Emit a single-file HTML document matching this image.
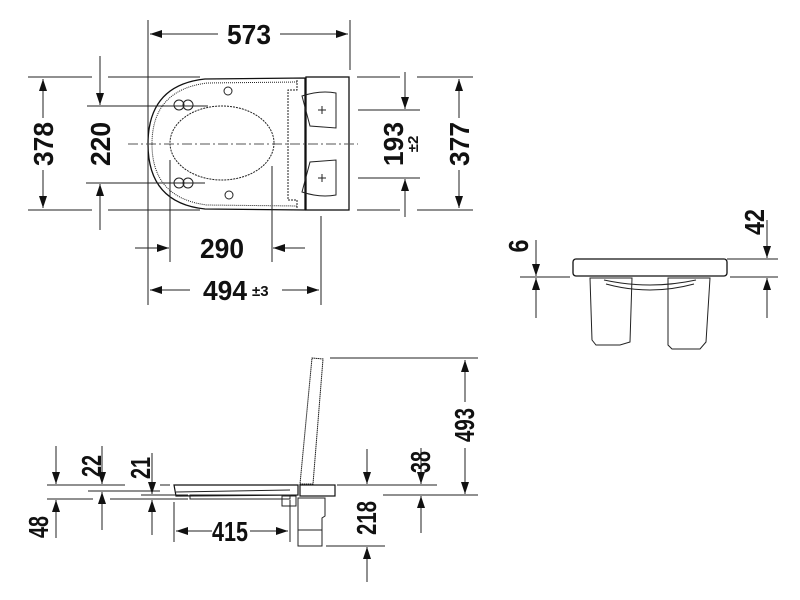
<!DOCTYPE html>
<html><head><style>body{margin:0;background:#fff}svg{display:block}
text{font-family:"Liberation Sans",sans-serif;font-weight:bold;fill:#111}</style></head><body>
<svg width="800" height="600" viewBox="0 0 800 600" xmlns="http://www.w3.org/2000/svg">
<defs>
<marker id="a" markerWidth="12" markerHeight="8" refX="12" refY="4" orient="auto" markerUnits="userSpaceOnUse"><path d="M0,0 L12,4 L0,8Z" fill="#111"/></marker>
</defs>
<g stroke="#222" stroke-width="1" fill="none">
<line x1="148" y1="20" x2="148" y2="305"/><line x1="350" y1="20" x2="350" y2="70"/>
<line x1="218" y1="34" x2="150" y2="34" marker-end="url(#a)"/><line x1="280" y1="34" x2="348" y2="34" marker-end="url(#a)"/>
<path d="M305,78 L205,79 Q148,85 148,144 Q148,203 205,209 L305,210 Z" stroke="#111" stroke-width="1.3"/>
<path d="M297,82 L207,83 Q152,90 152,144 Q152,198 207,205 L297,206" stroke-dasharray="1 1"/>
<rect x="306" y="77" width="43" height="133" stroke="#111" stroke-width="1.3"/>
<path d="M297,80 L297,90 L288,90 L288,200 L297,200 L297,208" stroke-dasharray="2 1"/>
<path d="M302,96 Q320,90 336,93 L336,128 L310,126 Z"/><path d="M302,192 Q320,198 336,195 L336,160 L310,162 Z"/>
<path d="M318,110 h8 M322,106 v8 M318,178 h8 M322,174 v8"/>
<ellipse cx="222" cy="143" rx="52" ry="37" stroke-dasharray="2 1"/>
<circle cx="228" cy="91" r="4"/><circle cx="229" cy="195" r="4"/>
<circle cx="179" cy="105" r="5"/><circle cx="188" cy="105" r="5"/><circle cx="179" cy="183" r="5"/><circle cx="188" cy="183" r="5"/>
<line x1="128" y1="144" x2="358" y2="144" stroke-dasharray="10 3 2 3" stroke="#555"/>
<line x1="28" y1="77" x2="92" y2="77"/><line x1="108" y1="77" x2="200" y2="77"/>
<line x1="28" y1="210" x2="92" y2="210"/><line x1="108" y1="210" x2="200" y2="210"/>
<line x1="43" y1="118" x2="43" y2="79" marker-end="url(#a)"/><line x1="43" y1="170" x2="43" y2="208" marker-end="url(#a)"/>
<line x1="87" y1="106" x2="208" y2="106"/><line x1="86" y1="183" x2="205" y2="183"/>
<line x1="100" y1="56" x2="100" y2="105" marker-end="url(#a)"/><line x1="100" y1="230" x2="100" y2="184" marker-end="url(#a)"/>
<line x1="358" y1="110" x2="420" y2="110"/><line x1="358" y1="178" x2="420" y2="178"/>
<line x1="405" y1="72" x2="405" y2="109" marker-end="url(#a)"/><line x1="405" y1="217" x2="405" y2="179" marker-end="url(#a)"/>
<line x1="357" y1="77" x2="400" y2="77"/><line x1="417" y1="77" x2="473" y2="77"/>
<line x1="357" y1="210" x2="400" y2="210"/><line x1="417" y1="210" x2="473" y2="210"/>
<line x1="459" y1="118" x2="459" y2="79" marker-end="url(#a)"/><line x1="459" y1="170" x2="459" y2="208" marker-end="url(#a)"/>
<line x1="170" y1="160" x2="170" y2="262"/><line x1="272" y1="166" x2="272" y2="262"/>
<line x1="135" y1="248" x2="169" y2="248" marker-end="url(#a)"/><line x1="305" y1="248" x2="273" y2="248" marker-end="url(#a)"/>
<line x1="321" y1="216" x2="321" y2="305"/>
<line x1="190" y1="290" x2="150" y2="290" marker-end="url(#a)"/><line x1="282" y1="290" x2="319" y2="290" marker-end="url(#a)"/>

<rect x="573" y="259" width="154" height="17" rx="3" stroke="#111" stroke-width="1.3"/>
<path d="M590,278 L632,278 L630,342 L620,345 L596,345 L592,340 Z"/>
<path d="M668,278 L710,278 L706,342 L700,349 L672,349 L668,345 Z"/>
<path d="M604,280 Q650,290 696,280" /><path d="M606,284 Q650,296 694,284"/>
<line x1="520" y1="277" x2="570" y2="277"/><line x1="727" y1="259" x2="778" y2="259"/><line x1="730" y1="277" x2="778" y2="277"/>
<line x1="536" y1="240" x2="536" y2="276" marker-end="url(#a)"/><line x1="536" y1="318" x2="536" y2="278" marker-end="url(#a)"/>
<line x1="767" y1="220" x2="767" y2="258" marker-end="url(#a)"/><line x1="767" y1="318" x2="767" y2="278" marker-end="url(#a)"/>

<path d="M312,358 L323,359 L313,484 L300,484 Z" stroke-dasharray="1.5 0.5"/>
<path d="M174,485 L298,485 L298,495 L176,496 Z" stroke="#111" stroke-width="1.2"/>
<path d="M176,492 L290,490"/>
<rect x="190" y="495" width="100" height="4"/>
<rect x="300" y="485" width="35" height="11" stroke="#111" stroke-width="1.2"/>
<path d="M298,498 L325,498 L325,516 L322,518 L322,546 L298,546 Z"/><line x1="298" y1="530" x2="322" y2="530"/>
<rect x="282" y="496" width="14" height="10"/>
<line x1="330" y1="358" x2="478" y2="358"/><line x1="383" y1="495" x2="478" y2="495"/>
<line x1="465" y1="402" x2="465" y2="360" marker-end="url(#a)"/><line x1="465" y1="448" x2="465" y2="494" marker-end="url(#a)"/>
<line x1="337" y1="485" x2="437" y2="485"/><line x1="326" y1="546" x2="385" y2="546"/>
<line x1="367" y1="449" x2="367" y2="484" marker-end="url(#a)"/><line x1="367" y1="582" x2="367" y2="547" marker-end="url(#a)"/>
<line x1="421" y1="448" x2="421" y2="484" marker-end="url(#a)"/><line x1="421" y1="533" x2="421" y2="496" marker-end="url(#a)"/>
<line x1="47" y1="485" x2="125" y2="485"/><line x1="160" y1="485" x2="170" y2="485"/>
<line x1="88" y1="491" x2="160" y2="491"/>
<line x1="47" y1="499" x2="93" y2="499"/><line x1="110" y1="499" x2="188" y2="499"/>
<line x1="141" y1="495" x2="188" y2="495"/>
<line x1="56" y1="446" x2="56" y2="484" marker-end="url(#a)"/><line x1="56" y1="538" x2="56" y2="500" marker-end="url(#a)"/>
<line x1="102" y1="446" x2="102" y2="484" marker-end="url(#a)"/><line x1="102" y1="530" x2="102" y2="492" marker-end="url(#a)"/>
<line x1="152" y1="453" x2="152" y2="494" marker-end="url(#a)"/><line x1="152" y1="535" x2="152" y2="500" marker-end="url(#a)"/>
<line x1="174" y1="502" x2="174" y2="542"/><line x1="290" y1="500" x2="290" y2="542"/>
<line x1="212" y1="531" x2="176" y2="531" marker-end="url(#a)"/><line x1="250" y1="531" x2="288" y2="531" marker-end="url(#a)"/>
</g>
<g font-size="28">
<text x="249" y="44" text-anchor="middle" textLength="44" lengthAdjust="spacingAndGlyphs">573</text>
<text x="222" y="258" text-anchor="middle" textLength="44" lengthAdjust="spacingAndGlyphs">290</text>
<text x="225" y="300" text-anchor="middle" textLength="44" lengthAdjust="spacingAndGlyphs">494</text>
<text x="230" y="541" text-anchor="middle" textLength="36" lengthAdjust="spacingAndGlyphs">415</text>
<text transform="translate(53,144) rotate(-90)" text-anchor="middle" textLength="44" lengthAdjust="spacingAndGlyphs">378</text>
<text transform="translate(110,144) rotate(-90)" text-anchor="middle" textLength="44" lengthAdjust="spacingAndGlyphs">220</text>
<text transform="translate(403,144) rotate(-90)" text-anchor="middle" textLength="44" lengthAdjust="spacingAndGlyphs">193</text>
<text transform="translate(469,144) rotate(-90)" text-anchor="middle" textLength="44" lengthAdjust="spacingAndGlyphs">377</text>
<text transform="translate(474,425) rotate(-90)" text-anchor="middle" textLength="34" lengthAdjust="spacingAndGlyphs">493</text>
<text transform="translate(430,462) rotate(-90)" text-anchor="middle" textLength="22" lengthAdjust="spacingAndGlyphs">38</text>
<text transform="translate(376,518) rotate(-90)" text-anchor="middle" textLength="34" lengthAdjust="spacingAndGlyphs">218</text>
<text transform="translate(101,466) rotate(-90)" text-anchor="middle" textLength="22" lengthAdjust="spacingAndGlyphs">22</text>
<text transform="translate(150,468) rotate(-90)" text-anchor="middle" textLength="22" lengthAdjust="spacingAndGlyphs">21</text>
<text transform="translate(48,527) rotate(-90)" text-anchor="middle" textLength="22" lengthAdjust="spacingAndGlyphs">48</text>
<text transform="translate(528,246) rotate(-90)" text-anchor="middle" textLength="13" lengthAdjust="spacingAndGlyphs">6</text>
<text transform="translate(764,222) rotate(-90)" text-anchor="middle" textLength="26" lengthAdjust="spacingAndGlyphs">42</text>
</g>
<g font-size="15">
<text x="252" y="296">±3</text>
<text transform="translate(418,144) rotate(-90)" text-anchor="middle">±2</text>
</g>
</svg>
</body></html>
